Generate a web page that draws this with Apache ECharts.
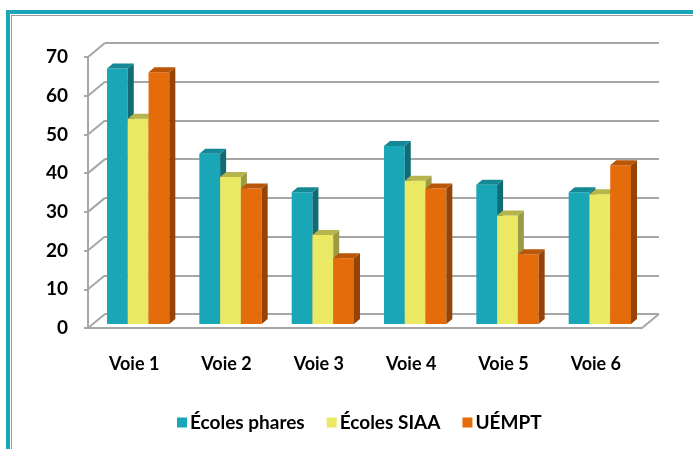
<!DOCTYPE html>
<html>
<head>
<meta charset="utf-8">
<script src="https://cdn.jsdelivr.net/npm/echarts@6/dist/echarts.min.js"></script>
<style>
  html, body { margin: 0; padding: 0; background: #fff; }
  #frame {
    position: absolute; left: 6px; top: 10px; width: 687px; height: 439px;
    border-left: 4px solid #19a6b6; border-top: 4px solid #19a6b6;
    box-sizing: border-box;
  }
  #frame::after {
    content: ''; position: absolute; left: 1px; top: 1px; right: 0; bottom: 0;
    border-left: 1px solid #999; border-top: 1px solid #999;
  }
  #chart { position: absolute; left: 0; top: 0; width: 693px; height: 449px; }
</style>
</head>
<body>
<div id="frame"></div>
<div id="chart"></div>
<script>
const categories = ['Voie 1', 'Voie 2', 'Voie 3', 'Voie 4', 'Voie 5', 'Voie 6']
const seriesNames = ['Écoles phares', 'Écoles SIAA', 'UÉMPT']
const ecolesPhares = [66, 44, 34, 46, 36, 34]
const ecolesSiaa = [53, 38, 23, 37, 28, 33.5]
const uempt = [65, 35, 17, 35, 18, 41]
const yTicks = [0, 10, 20, 30, 40, 50, 60, 70]

// couleurs : face avant, dessus, côté
const faces = [
  ['#19a6b6', '#148894', '#116b74'],
  ['#ebe964', '#b6b44c', '#9c9a44'],
  ['#e46c0a', '#b95608', '#944406'],
]

// décalage du mur du fond (perspective) et profondeur des barres
const DX = 17, DY = -14
const BDX = 6, BDY = -5
const gridW = 554, gridH = 271
const front = { left: 88, top: 57 }

const chart = echarts.init(document.getElementById('chart'))

function barItem(k) {
  return function (params, api) {
    const ci = api.value(0)
    const v = api.value(1)
    const top = api.coord([ci, v])
    const base = api.coord([ci, 0])
    const band = api.size([1, 0])[0]
    const w = band * 0.225
    const x = top[0] + (k - 1.5) * w
    const [cf, ct, cs] = faces[k]
    return {
      type: 'group',
      children: [
        {
          type: 'rect',
          shape: { x: x, y: top[1], width: w, height: base[1] - top[1] },
          style: { fill: cf },
        },
        {
          type: 'polygon',
          shape: {
            points: [[x + w, top[1]], [x + w + BDX, top[1] + BDY], [x + w + BDX, base[1] + BDY], [x + w, base[1]]],
          },
          style: { fill: cs },
        },
        {
          type: 'polygon',
          shape: {
            points: [[x, top[1]], [x + BDX, top[1] + BDY], [x + w + BDX, top[1] + BDY], [x + w, top[1]]],
          },
          style: { fill: ct },
        },
      ],
    }
  }
}

// lignes obliques entre l'axe avant et le mur du fond
function edgeItem(params, api) {
  const v = api.value(0)
  const p = api.coord([0, v])
  const band = api.size([1, 0])[0]
  const x0 = p[0] - band / 2
  const lines = [{
    type: 'line',
    shape: { x1: x0, y1: p[1], x2: x0 + DX, y2: p[1] + DY },
    style: { stroke: '#a6a6a6', lineWidth: 2 },
  }]
  if (v === 0) {
    const x1 = x0 + band * categories.length
    lines.push({
      type: 'line',
      shape: { x1: x1, y1: p[1], x2: x1 + DX, y2: p[1] + DY },
      style: { stroke: '#a6a6a6', lineWidth: 2 },
    })
  }
  return { type: 'group', children: lines }
}

const values = [ecolesPhares, ecolesSiaa, uempt]
const labelFont = { fontFamily: 'Lato', fontWeight: 'bold', color: '#000' }

const option = {
  animation: false,
  grid: [
    { left: front.left + DX, top: front.top + DY, width: gridW, height: gridH },
    { left: front.left, top: front.top, width: gridW, height: gridH },
    { left: front.left + 4, top: front.top - 4, width: gridW, height: gridH },
  ],
  xAxis: [
    { gridIndex: 0, type: 'category', data: categories, show: false },
    {
      gridIndex: 1, type: 'category', data: categories,
      axisLine: { lineStyle: { color: '#a6a6a6', width: 2 } },
      axisTick: { length: 8, lineStyle: { color: '#a6a6a6', width: 2 } },
      axisLabel: { ...labelFont, fontSize: 18, margin: 27 },
    },
    { gridIndex: 2, type: 'category', data: categories, show: false },
  ],
  yAxis: [
    {
      gridIndex: 0, type: 'value', min: 0, max: 70, interval: 10,
      axisLine: { show: false }, axisTick: { show: false }, axisLabel: { show: false },
      splitLine: { lineStyle: { color: '#a6a6a6', width: 2 } },
    },
    {
      gridIndex: 1, type: 'value', min: 0, max: 70, interval: 10,
      axisLine: { show: true, lineStyle: { color: '#a6a6a6', width: 2 } },
      axisTick: { show: true, length: 4, lineStyle: { color: '#a6a6a6', width: 2 } },
      axisLabel: { ...labelFont, fontSize: 19, margin: 20 },
      splitLine: { show: false },
    },
    { gridIndex: 2, type: 'value', min: 0, max: 70, interval: 10, show: false },
  ],
  legend: {
    bottom: 12,
    left: 172,
    icon: 'rect',
    itemWidth: 10,
    itemHeight: 10,
    itemGap: 22,
    textStyle: { fontFamily: 'Lato', fontWeight: 'bold', fontSize: 19, color: '#000', padding: [0, 0, 0, -2] },
    data: seriesNames,
  },
  series: [
    {
      type: 'custom', xAxisIndex: 1, yAxisIndex: 1, silent: true,
      data: yTicks.map((t) => [t]),
      encode: { y: 0 },
      renderItem: edgeItem,
      z: 1,
    },
    ...values.map((vals, k) => ({
      name: seriesNames[k],
      type: 'custom',
      xAxisIndex: 2,
      yAxisIndex: 2,
      itemStyle: { color: faces[k][0] },
      data: vals.map((v, i) => [i, v]),
      encode: { x: 0, y: 1 },
      renderItem: barItem(k),
      z: 3,
    })),
  ],
}

chart.setOption(option)
</script>
</body>
</html>
